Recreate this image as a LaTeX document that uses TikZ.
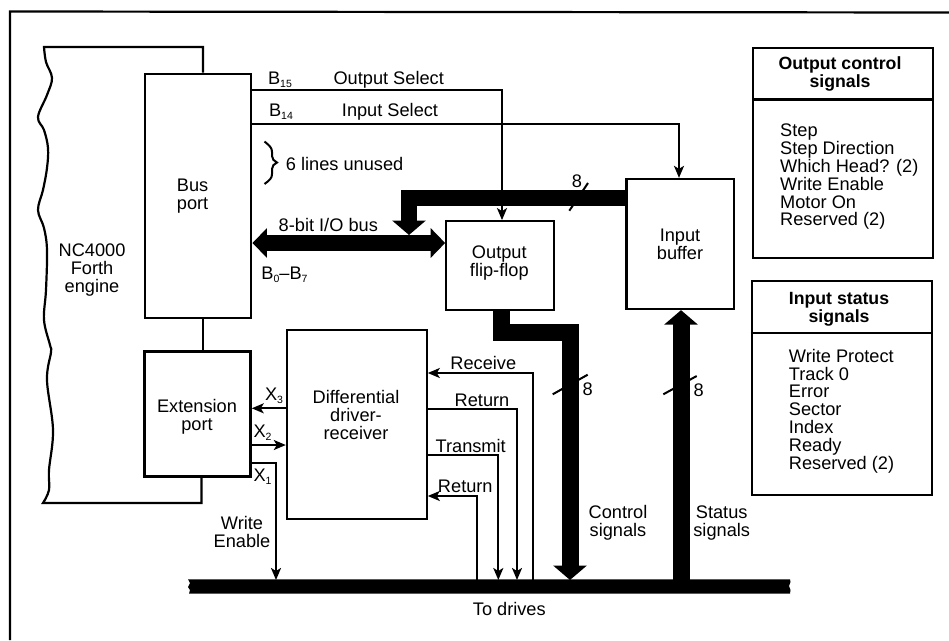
\documentclass[tikz,border=0pt]{standalone}
\usepackage{fontspec}
\setmainfont{Liberation Sans}
\usetikzlibrary{arrows.meta}
\newcommand\sbs[1]{\raisebox{-3pt}{\fontsize{10.5}{10.5}\selectfont #1}}
\tikzset{
  x=1pt,y=-1pt,
  box/.style={draw=black,line width=2.3pt,fill=white,inner sep=0pt},
  lbl/.style={inner sep=0pt,font=\fontsize{18.2}{17.8}\selectfont,align=center,text=black},
  lst/.style={lbl,align=left,anchor=west},
  ttl/.style={lbl,font=\fontsize{17.7}{17.6}\selectfont\bfseries},
  outline/.style={draw=black,line width=2.2pt,line join=miter},
  sig/.style={draw=black,line width=2pt,line join=miter},
  sigend/.style={sig,-{Stealth[length=12pt,width=10pt,inset=3pt]}},
  fat/.style={draw=black,line width=16pt,line join=miter},
  fathead/.style={-{Triangle[length=14.5pt,width=33pt]}},
  hash/.style={draw=black,line width=2pt},
}
\begin{document}
\begin{tikzpicture}
\useasboundingbox (0,0) rectangle (949,640);
\fill[white] (0,0) rectangle (949,640);
% frame
\draw[outline] (10,640) -- (10,11.5) -- (949,12.5);

% boxes
\node[box,minimum width=106pt,minimum height=244pt] (bus) at (198.3,195.7) {};
\node[box,minimum width=106pt,minimum height=125pt] (ext) at (197.6,414) {};
\node[box,minimum width=139.7pt,minimum height=189pt] (diff) at (356.8,424.5) {};
\node[box,minimum width=108pt,minimum height=88.7pt] (ff) at (500.3,265.6) {};
\node[box,minimum width=107.7pt,minimum height=130pt] (ibuf) at (680.2,244) {};
\node[box,minimum width=179.4pt,minimum height=210.6pt] (obox) at (843,153) {};
\node[box,minimum width=180pt,minimum height=214.3pt] (ibox) at (841.7,387.8) {};

% NC4000 outline
\coordinate (nctop) at (203,47);
\coordinate (ncbot) at (201.5,503);
\draw[outline] (bus.north -| nctop) -- (nctop) -- (44,47)
  -- plot[smooth,tension=.6] coordinates {(44,47) (46,62) (52,78) (47,95) (38,117) (44,130) (48,148) (47,168) (43,190) (38,210) (44,228) (47,250) (46,290) (44,320) (50,345) (51,352) (47,380) (53,430) (49,470) (49,490) (43,503)}
  -- (ncbot) -- (ncbot |- ext.south);
\draw[outline] (bus.south -| nctop) -- (ext.north -| nctop);

% to-drives bar
\fill[black] (188,579.3) -- (190,583) -- (188,587) -- (190,590) -- (189,593.7) -- (790,593.7) -- (790.5,590) -- (789,586) -- (790.5,582) -- (790,579.3) -- cycle;
\coordinate (bartop) at (0,580);

% select lines
\coordinate (s15) at (502,90.3);
\coordinate (s14) at (679,123.7);

% thick buses
\coordinate (y8) at (0,243);
\draw[fat,{Triangle[length=14.5pt,width=29pt]}-{Triangle[length=14.5pt,width=29pt]}] (bus.east |- y8) -- (ff.west |- y8);
\coordinate (ibar) at (409,197.5);
\coordinate (tipi) at (409,235);
\draw[fat,fathead] (ibuf.west |- ibar) -- (ibar) -- (tipi);
\coordinate (c1) at (501,332);
\coordinate (c2) at (570,332);
\draw[fat,line width=17pt,fathead] (c1 |- ff.south) -- (c1) -- (c2) -- (c2 |- bartop);
\coordinate (st) at (681,580);
\draw[fat,line width=17pt,fathead] (st) -- (st |- ibuf.south);

\draw[sigend] (bus.east |- s15) -- (s15) -- (s15 |- ff.north);
\draw[sigend] (bus.east |- s14) -- (s14) -- (s14 |- ibuf.north);

% hash marks
\draw[hash] (569.3,210.7) -- (588,183);
\draw[hash] (552.7,394.3) -- (587.7,374.7);
\draw[hash] (663.3,394.3) -- (696.7,376);

% driver signals
\coordinate (rc) at (533.3,373);
\coordinate (rt1) at (517,409);
\coordinate (tr) at (498.3,455);
\coordinate (rt2) at (477.3,496);
\draw[sigend] (rc |- bartop) -- (rc) -- (diff.east |- rc);
\draw[sigend] (diff.east |- rt1) -- (rt1) -- (rt1 |- bartop);
\draw[sigend] (diff.east |- tr) -- (tr) -- (tr |- bartop);
\draw[sigend] (rt2 |- bartop) -- (rt2) -- (diff.east |- rt2);

% extension lines
\coordinate (x3) at (0,408.3);
\coordinate (x2) at (0,445);
\coordinate (x1) at (276,463.3);
\draw[sigend] (diff.west |- x3) -- (ext.east |- x3);
\draw[sigend] (ext.east |- x2) -- (diff.west |- x2);
\draw[sigend] (ext.east |- x1) -- (x1) -- (x1 |- bartop);

% brace
\draw[sig] (264.5,141.5) .. controls (270,146) and (272,148) .. (272,152) -- (272,156) .. controls (272,159) and (274,161) .. (277,162.5) .. controls (274,164) and (272,166) .. (272,169) -- (272,174) .. controls (272,178) and (270,180) .. (264.5,184);

% labels
\node[lbl] (lnc) at (92,270.2) {NC4000\\Forth\\engine};
\node[lbl] (lbus) at (192.6,196.5) {Bus\\port};
\node[lbl] (lext) at (197,416.5) {Extension\\port};
\node[lbl] (ldiff) at (356,415) {Differential\\driver-\\receiver};
\node[lbl] (lff) at (499.3,262.7) {Output\\flip-flop};
\node[lbl] (libuf) at (680,244) {Input\\buffer};
\node[lbl] (lb15) at (280,79.7) {B\sbs{15}};
\node[lbl] (los) at (388.7,79.7) {Output Select};
\node[lbl] (lb14) at (281,112) {B\sbs{14}};
\node[lbl] (lis) at (390,112) {Input Select};
\node[lbl,anchor=west] (lun) at (285.7,164) {6 lines unused};
\node[lbl] (lio) at (328.3,225) {8-bit I/O bus};
\node[lbl] (lb07) at (284.5,275) {B\sbs{0}--B\sbs{7}};
\node[lbl] (lx3) at (274,396) {X\sbs{3}};
\node[lbl] (lx2) at (262.5,433) {X\sbs{2}};
\node[lbl] (lx1) at (262.5,477) {X\sbs{1}};
\node[lbl] (lwe) at (242,532) {Write\\Enable};
\node[lbl] (lrc) at (483.3,363) {Receive};
\node[lbl] (lrt1) at (482,400) {Return};
\node[lbl] (ltr) at (470.7,446) {Transmit};
\node[lbl] (lrt2) at (465.3,486.7) {Return};
\node[lbl] (l8a) at (577,181) {8};
\node[lbl] (l8b) at (587.7,389) {8};
\node[lbl] (l8c) at (698.7,390) {8};
\node[lbl] (lcs) at (618,523) {Control\\signals};
\node[lbl] (lss) at (721.7,523) {Status\\signals};
\node[lbl] (ldr) at (509.3,609) {To drives};

% signal tables
\coordinate (od) at (0,99.5);
\coordinate (id) at (0,332.7);
\draw[outline] (obox.west |- od) -- (obox.east |- od);
\draw[outline] (ibox.west |- id) -- (ibox.east |- id);
\node[ttl] (tout) at (840,74) {Output control\\signals};
\node[ttl] (tin) at (839,309) {Input status\\signals};
\node[lst] (lout) at (780,177) {Step\\Step Direction\\Which Head? (2)\\Write Enable\\Motor On\\Reserved (2)};
\node[lst] (lin) at (788.7,411) {Write Protect\\Track 0\\Error\\Sector\\Index\\Ready\\Reserved (2)};
\end{tikzpicture}
\end{document}
